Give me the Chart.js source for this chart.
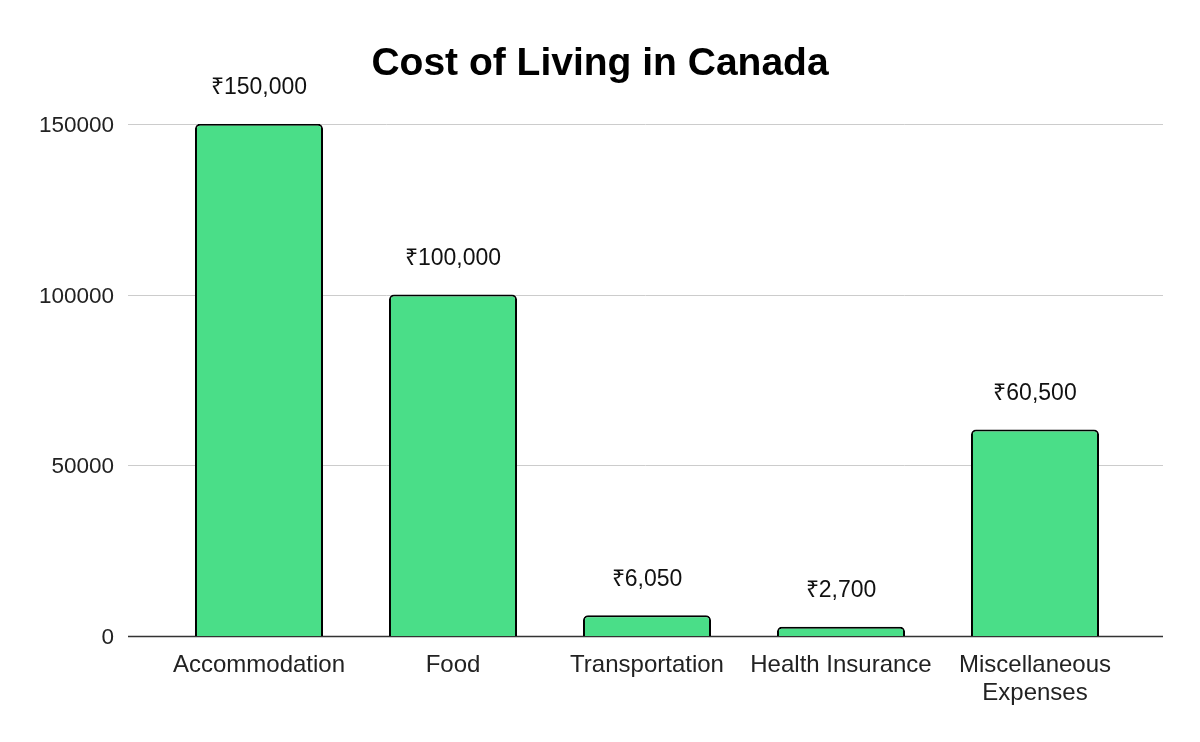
<!DOCTYPE html>
<html>
<head>
<meta charset="utf-8">
<script src="https://cdn.jsdelivr.net/npm/chart.js@4.4.1/dist/chart.umd.min.js"></script>
<style>
    html, body { margin: 0; padding: 0; background: #ffffff; }
    #wrap { width: 1200px; height: 742px; }
</style>
</head>
<body>
<div id="wrap"><canvas id="costChart"></canvas></div>
<script>
// Data
const categories = ['Accommodation', 'Food', 'Transportation', 'Health Insurance', ['Miscellaneous', 'Expenses']];
const costs = [150000, 100000, 6050, 2700, 60500];
const yTicks = [0, 50000, 100000, 150000];

const barColor = '#4ade88';
const fontFamily = '"Liberation Sans", Arial, sans-serif';

// gridlines that run wider than the bar area, like the original
const wideGrid = {
    id: 'wideGrid',
    beforeDatasetsDraw(chart) {
        const ctx = chart.ctx;
        const y = chart.scales.y;
        ctx.save();
        yTicks.forEach(v => {
            const py = Math.round(y.getPixelForValue(v)) + 0.5;
            ctx.beginPath();
            ctx.strokeStyle = v === 0 ? '#333333' : '#cccccc';
            ctx.lineWidth = v === 0 ? 1.5 : 1;
            ctx.moveTo(128, py);
            ctx.lineTo(1163, py);
            ctx.stroke();
        });
        ctx.restore();
    }
};

// value labels above bars
const valueLabels = {
    id: 'valueLabels',
    afterDatasetsDraw(chart) {
        const ctx = chart.ctx;
        const meta = chart.getDatasetMeta(0);
        ctx.save();
        ctx.font = '23px ' + fontFamily;
        ctx.fillStyle = '#111111';
        ctx.textAlign = 'center';
        ctx.textBaseline = 'middle';
        meta.data.forEach((bar, i) => {
            ctx.fillText('₹' + costs[i].toLocaleString('en-US'), bar.x, bar.y - 36);
        });
        ctx.restore();
    }
};

const ctx = document.getElementById('costChart').getContext('2d');
new Chart(ctx, {
    type: 'bar',
    data: {
        labels: categories,
        datasets: [{
            data: costs,
            backgroundColor: barColor,
            borderColor: '#000000',
            borderWidth: 2,
            borderSkipped: 'bottom',
            borderRadius: { topLeft: 5, topRight: 5, bottomLeft: 0, bottomRight: 0 },
            categoryPercentage: 1,
            barPercentage: 0.66
        }]
    },
    options: {
        responsive: true,
        maintainAspectRatio: false,
        animation: false,
        layout: {
            padding: 0
        },
        scales: {
            y: {
                min: 0,
                max: 150000,
                afterFit: function(scale) { scale.width = 162; },
                afterBuildTicks: function(scale) {
                    scale.ticks = yTicks.map(v => ({ value: v }));
                },
                grid: { display: false, drawTicks: false },
                border: { display: false },
                ticks: {
                    padding: 48,
                    labelOffset: 2,
                    color: '#222222',
                    font: { family: fontFamily, size: 22.5 },
                    callback: function(value) { return String(value); }
                }
            },
            // empty right-hand spacer so the title stays centred on the canvas
            yRight: {
                position: 'right',
                afterFit: function(scale) { scale.width = 68; },
                grid: { display: false, drawTicks: false },
                border: { display: false },
                ticks: { display: false }
            },
            x: {
                afterFit: function(scale) { scale.height = 106; },
                grid: { display: false, drawTicks: false },
                border: { display: false },
                ticks: {
                    padding: 15,
                    maxRotation: 0,
                    autoSkip: false,
                    color: '#222222',
                    font: { family: fontFamily, size: 24, lineHeight: 1.17 }
                }
            }
        },
        plugins: {
            legend: { display: false },
            tooltip: { enabled: false },
            title: {
                display: true,
                text: 'Cost of Living in Canada',
                color: '#000000',
                font: { family: fontFamily, size: 39, weight: 'bold', lineHeight: 1.2 },
                padding: { top: 41, bottom: 36 }
            }
        }
    },
    plugins: [wideGrid, valueLabels]
});
</script>
</body>
</html>
